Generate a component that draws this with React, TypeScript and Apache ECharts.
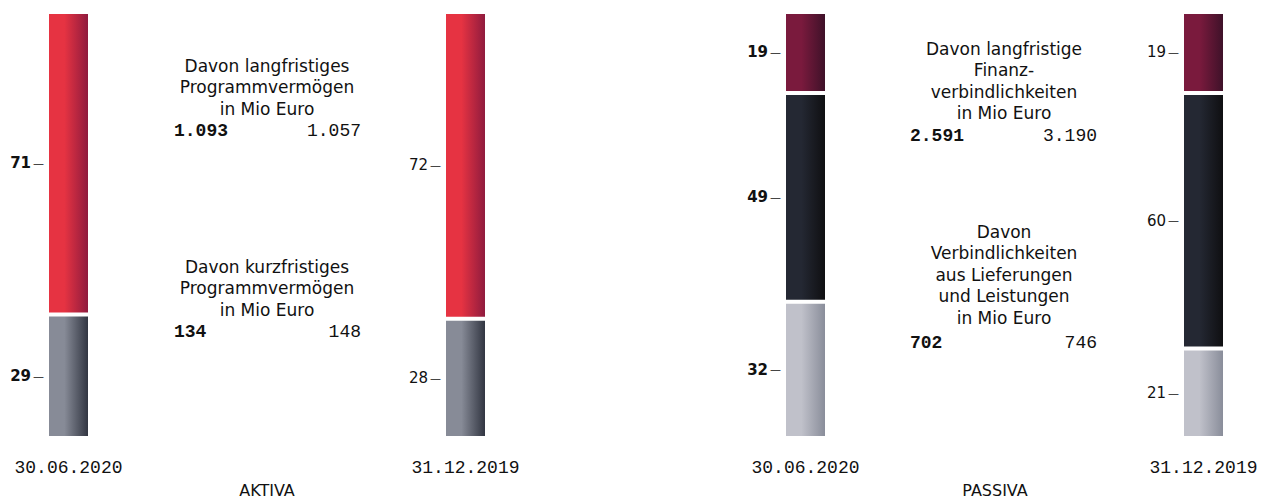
import React, { useEffect, useRef } from "react";
import * as echarts from "echarts";

const dates = ["30.06.2020", "31.12.2019"];
const aktivaLangfristig = [71, 72];
const aktivaKurzfristig = [29, 28];
const passivaTop = [19, 19];
const passivaMid = [49, 60];
const passivaBottom = [32, 21];

const aktivaTitle = "AKTIVA";
const passivaTitle = "PASSIVA";

const aktivaText1 = ["Davon langfristiges", "Programmvermögen", "in Mio Euro"];
const aktivaValues1 = ["1.093", "1.057"];
const aktivaText2 = ["Davon kurzfristiges", "Programmvermögen", "in Mio Euro"];
const aktivaValues2 = ["134", "148"];
const passivaText1 = ["Davon langfristige", "Finanz-", "verbindlichkeiten", "in Mio Euro"];
const passivaValues1 = ["2.591", "3.190"];
const passivaText2 = ["Davon", "Verbindlichkeiten", "aus Lieferungen", "und Leistungen", "in Mio Euro"];
const passivaValues2 = ["702", "746"];

const SANS = "DejaVu Sans";
const MONO = "Liberation Mono";

function grad(c1: string, c2: string) {
  return new echarts.graphic.LinearGradient(0, 0, 1, 0, [
    { offset: 0, color: c1 },
    { offset: 0.4, color: c1 },
    { offset: 1, color: c2 },
  ]);
}

export default function App() {
  const ref = useRef<HTMLDivElement>(null);
  useEffect(() => {
    if (!ref.current) return;
    const chart = echarts.init(ref.current, undefined, { renderer: "svg" });

    const barLefts = [47, 444, 784, 1182];
    const gridW = 43;
    const grids = barLefts.map((l) => ({ left: l, width: gridW, top: 12, height: 426 }));

    const xAxes = barLefts.map((_, i) => ({
      type: "category",
      gridIndex: i,
      data: [dates[i % 2]],
      axisLine: { show: false },
      axisTick: { show: false },
      axisLabel: {
        margin: 21,
        fontFamily: MONO,
        fontSize: 18,
        color: "#111",
      },
    }));
    const yAxes = barLefts.map((_, i) => ({
      type: "value",
      gridIndex: i,
      min: 0,
      max: 100,
      show: false,
    }));

    const mkSeries = (
      idx: number,
      arr: number[],
      dateIdx: number,
      c1: string,
      c2: string,
      stack: string
    ) => ({
      type: "bar",
      xAxisIndex: idx,
      yAxisIndex: idx,
      stack,
      barWidth: "100%",
      data: [arr[dateIdx]],
      itemStyle: { color: grad(c1, c2), borderColor: "#fff", borderWidth: 2 },
      label: {
        show: true,
        position: "left",
        distance: 3,
        formatter: (p: any) => `{n|${p.value}}{d|—}`,
        rich: {
          n: {
            fontFamily: SANS,
            fontSize: 15,
            fontWeight: dateIdx === 0 ? "bold" : "normal",
            color: "#111",
          },
          d: { fontFamily: SANS, fontSize: 11, color: "#111", padding: [0, 0, 0, 2] },
        },
      },
    });

    const series: any[] = [];
    [0, 1].forEach((d) => {
      const gi = d;
      series.push(mkSeries(gi, aktivaKurzfristig, d, "#878b97", "#2e323e", "a" + d));
      series.push(mkSeries(gi, aktivaLangfristig, d, "#e63342", "#8c1a3e", "a" + d));
    });
    [0, 1].forEach((d) => {
      const gi = 2 + d;
      series.push(mkSeries(gi, passivaBottom, d, "#c0c1ca", "#878b98", "p" + d));
      series.push(mkSeries(gi, passivaMid, d, "#242833", "#0e0e10", "p" + d));
      series.push(mkSeries(gi, passivaTop, d, "#7a1a3d", "#3c1128", "p" + d));
    });

    const block = (lines: string[], cx: number, top: number) => ({
      type: "text",
      x: cx,
      y: top,
      style: {
        text: lines.join("\n"),
        fontFamily: SANS,
        fontSize: 17,
        lineHeight: 21.5,
        fill: "#111",
        align: "center",
        verticalAlign: "top",
      },
    });
    const nums = (vals: string[], lx: number, rx: number, cy: number) => [
      {
        type: "text",
        x: lx,
        y: cy,
        style: {
          text: vals[0],
          fontFamily: MONO,
          fontSize: 18,
          fontWeight: "bold",
          fill: "#111",
          align: "left",
          verticalAlign: "middle",
        },
      },
      {
        type: "text",
        x: rx,
        y: cy,
        style: {
          text: vals[1],
          fontFamily: MONO,
          fontSize: 18,
          fill: "#111",
          align: "right",
          verticalAlign: "middle",
        },
      },
    ];
    const title = (t: string, cx: number) => ({
      type: "text",
      x: cx,
      y: 490,
      style: {
        text: t,
        fontFamily: SANS,
        fontSize: 16,
        fill: "#111",
        align: "center",
        verticalAlign: "middle",
      },
    });

    chart.setOption({
      animation: false,
      grid: grids,
      xAxis: xAxes,
      yAxis: yAxes,
      series,
      graphic: [
        block(aktivaText1, 267, 55),
        ...nums(aktivaValues1, 174, 361, 131),
        block(aktivaText2, 267, 256),
        ...nums(aktivaValues2, 174, 361, 332),
        block(passivaText1, 1004, 38),
        ...nums(passivaValues1, 910, 1097, 136),
        block(passivaText2, 1004, 221),
        ...nums(passivaValues2, 910, 1097, 343),
        title(aktivaTitle, 267),
        title(passivaTitle, 995),
      ],
    });
    return () => chart.dispose();
  }, []);
  return (
    <div
      ref={ref}
      style={{ position: "fixed", left: 0, top: 0, width: 1266, height: 500, background: "#fff" }}
    />
  );
}
